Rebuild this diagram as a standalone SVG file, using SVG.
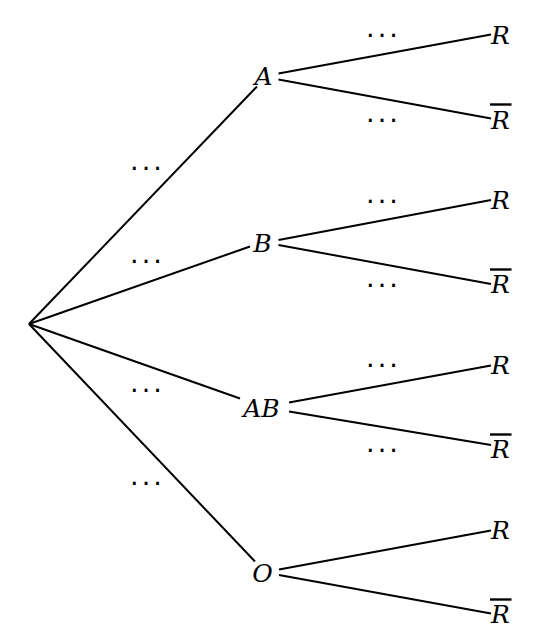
<svg xmlns="http://www.w3.org/2000/svg" width="540" height="644" viewBox="0 0 540 644">
<style>
.lbl{font-family:"DejaVu Serif","Liberation Serif",serif;font-style:italic;font-size:25px;fill:#000;text-anchor:middle}
.dots{font-family:"DejaVu Sans","Liberation Sans",sans-serif;font-size:27px;letter-spacing:3.1px;fill:#000;text-anchor:middle}
.e{stroke:#000;stroke-width:2;fill:none}
.bar{stroke:#000;stroke-width:2.4}
</style>
<rect width="540" height="644" fill="#fff"/>
<g id="connectors">
<line class="e" x1="29" y1="324" x2="257" y2="86.5"/>
<line class="e" x1="29" y1="324" x2="250" y2="246.5"/>
<line class="e" x1="29" y1="324" x2="240" y2="398.5"/>
<line class="e" x1="29" y1="324" x2="255" y2="561.5"/>
<line class="e" x1="278.5" y1="73.5" x2="491" y2="34.5"/>
<line class="e" x1="278.5" y1="79.5" x2="491" y2="118.5"/>
<line class="e" x1="278.5" y1="240" x2="491" y2="200"/>
<line class="e" x1="278.5" y1="245" x2="491" y2="284"/>
<line class="e" x1="289" y1="402.5" x2="491" y2="365.5"/>
<line class="e" x1="289" y1="411.5" x2="491" y2="445"/>
<line class="e" x1="279" y1="569.5" x2="491" y2="530.5"/>
<line class="e" x1="279" y1="575" x2="491" y2="613.5"/>
</g>
<g id="edge-labels">
<text class="dots" x="147.5" y="178">···</text>
<text class="dots" x="147.5" y="271">···</text>
<text class="dots" x="147.5" y="400">···</text>
<text class="dots" x="147.5" y="493">···</text>
<text class="dots" x="383.5" y="45">···</text>
<text class="dots" x="383.5" y="130">···</text>
<text class="dots" x="383.5" y="211">···</text>
<text class="dots" x="383.5" y="295">···</text>
<text class="dots" x="383.5" y="375">···</text>
<text class="dots" x="383.5" y="460">···</text>
</g>
<g id="node-A"><text class="lbl" x="263.5" y="85">A</text></g>
<g id="node-B"><text class="lbl" x="262.5" y="251.5">B</text></g>
<g id="node-AB"><text class="lbl" x="261.5" y="416.5">AB</text></g>
<g id="node-O"><text class="lbl" x="262.5" y="581.5">O</text></g>
<g id="node-A-R"><text class="lbl" x="500.5" y="43.5">R</text></g>
<g id="node-A-Rbar"><text class="lbl" x="500.5" y="129">R</text><line class="bar" x1="490" y1="104.5" x2="511.5" y2="104.5"/></g>
<g id="node-B-R"><text class="lbl" x="500.5" y="208.5">R</text></g>
<g id="node-B-Rbar"><text class="lbl" x="500.5" y="293">R</text><line class="bar" x1="490" y1="269.5" x2="511.5" y2="269.5"/></g>
<g id="node-AB-R"><text class="lbl" x="500.5" y="373.5">R</text></g>
<g id="node-AB-Rbar"><text class="lbl" x="500.5" y="458">R</text><line class="bar" x1="490" y1="434.5" x2="511.5" y2="434.5"/></g>
<g id="node-O-R"><text class="lbl" x="500.5" y="538.5">R</text></g>
<g id="node-O-Rbar"><text class="lbl" x="500.5" y="623">R</text><line class="bar" x1="490" y1="599.5" x2="511.5" y2="599.5"/></g>
</svg>
